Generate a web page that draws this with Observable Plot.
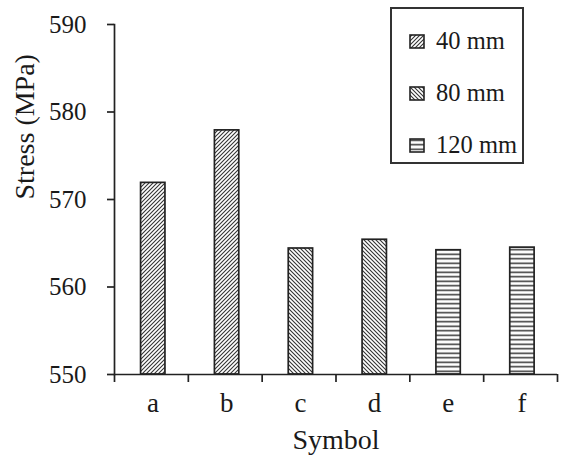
<!DOCTYPE html>
<html>
<head>
<meta charset="utf-8">
<script src="https://cdn.jsdelivr.net/npm/d3@7"></script>
<script src="https://cdn.jsdelivr.net/npm/@observablehq/plot@0.6"></script>
<style>
  html, body { margin: 0; padding: 0; background: #fff; }
  #wrap { position: relative; width: 563px; height: 464px; font-family: "Liberation Serif", "Times New Roman", serif; color: #1a1a1a; }
  #legend { position: absolute; left: 390px; top: 7px; width: 130px; height: 153px; border: 2px solid #333; background: #fff; box-sizing: content-box; }
  .item { position: absolute; left: 17px; display: flex; align-items: center; font-size: 24.5px; line-height: 1; }
  .item svg { margin-right: 11px; }
  svg text { font-family: "Liberation Serif", "Times New Roman", serif; }
</style>
</head>
<body>
<svg width="0" height="0" style="position:absolute">
  <defs>
    <pattern id="p40" patternUnits="userSpaceOnUse" width="4" height="4">
      <rect width="4" height="4" fill="#fff"/>
      <path d="M-1,1 l2,-2 M0,4 l4,-4 M3,5 l2,-2" stroke="#333" stroke-width="1.1"/>
    </pattern>
    <pattern id="p80" patternUnits="userSpaceOnUse" width="4" height="4">
      <rect width="4" height="4" fill="#fff"/>
      <path d="M-1,3 l2,2 M0,0 l4,4 M3,-1 l2,2" stroke="#333" stroke-width="1.1"/>
    </pattern>
    <pattern id="p120" patternUnits="userSpaceOnUse" width="4" height="4.5">
      <rect width="4" height="4.5" fill="#fff"/>
      <path d="M0,2.25 h4" stroke="#333" stroke-width="1.5"/>
    </pattern>
  </defs>
</svg>
<div id="wrap">
  <div id="chart"></div>
  <div id="legend"></div>
</div>
<script>
const symbols = ["a", "b", "c", "d", "e", "f"];
const stress = [571.9, 577.9, 564.4, 565.4, 564.2, 564.5];
const groups = ["40 mm", "40 mm", "80 mm", "80 mm", "120 mm", "120 mm"];
const legendLabels = ["40 mm", "80 mm", "120 mm"];
const patternIds = ["p40", "p80", "p120"];
const yTicks = [550, 560, 570, 580, 590];

const serif = "Liberation Serif";
const fillFor = g => `url(#${patternIds[legendLabels.indexOf(g)]})`;
const data = symbols.map((s, i) => ({symbol: s, index: i, stress: stress[i], group: groups[i]}));

const chart = Plot.plot({
  width: 563,
  height: 464,
  marginLeft: 114,
  marginRight: 6,
  marginTop: 24,
  marginBottom: 90,
  style: {fontFamily: "'Liberation Serif', 'Times New Roman', serif", fontSize: "25px", color: "#1a1a1a", background: "#fff"},
  x: {domain: [0, symbols.length]},
  y: {domain: [550, 590]},
  color: {type: "identity"},
  marks: [
    Plot.rectY(data, {x1: d => d.index + 0.36, x2: d => d.index + 0.69, y1: 550, y2: "stress", fill: d => fillFor(d.group), stroke: "#222", strokeWidth: 1.7}),
    Plot.ruleY([550], {stroke: "#222", strokeWidth: 1.7}),
    Plot.frame({anchor: "left", stroke: "#222", strokeWidth: 1.7}),
    Plot.axisY({ticks: yTicks, tickSize: 7, tickPadding: 21, tickFormat: d => String(d), label: null, fontSize: 25, fontFamily: serif, fontVariant: "normal", stroke: "#222", strokeWidth: 1.7}),
    Plot.axisX({ticks: d3.range(symbols.length + 1), tickSize: 8, tickFormat: () => "", label: null, stroke: "#222", strokeWidth: 1.7}),
    Plot.text(data, {x: d => d.index + 0.52, text: "symbol", frameAnchor: "bottom", dy: 37, fontSize: 27, fontFamily: serif, fill: "#1a1a1a"}),
    Plot.text(["Symbol"], {frameAnchor: "bottom", dy: 74, fontSize: 28, fontFamily: serif, fill: "#1a1a1a"}),
    Plot.text(["Stress (MPa)"], {frameAnchor: "left", dx: -89, rotate: -90, fontSize: 28, fontFamily: serif, fill: "#1a1a1a"})
  ]
});
document.getElementById("chart").appendChild(chart);

const legend = document.getElementById("legend");
const tops = [20, 72, 124];
legendLabels.forEach((lab, i) => {
  const item = document.createElement("div");
  item.className = "item";
  item.style.top = tops[i] + "px";
  item.innerHTML = `<svg width="16" height="15"><rect x="1" y="1" width="14" height="13" fill="url(#${patternIds[i]})" stroke="#222" stroke-width="1.6"/></svg><span>${lab}</span>`;
  legend.appendChild(item);
});
</script>
</body>
</html>
